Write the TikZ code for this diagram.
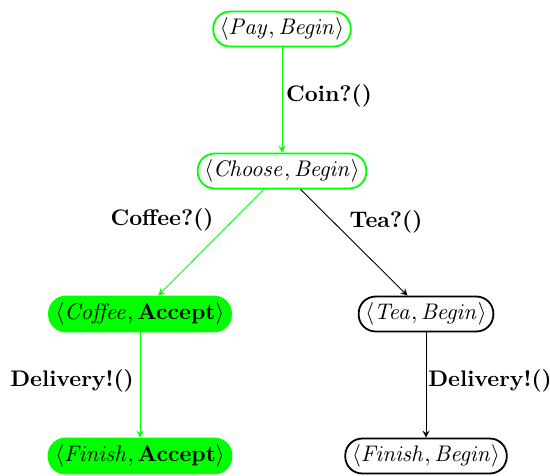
\documentclass[tikz,border=0pt]{standalone}
\usepackage{amsmath}
\usepackage{amssymb}
\usepackage{tikz}

\tikzset{
  state/.style={draw, thick, rounded corners=7.5pt, minimum height=15.5pt, inner xsep=3pt, inner ysep=2pt},
  okstate/.style={state, draw=green, fill=green},
  lbl/.style={font=\bfseries}
}

\begin{document}
\begin{tikzpicture}[x=0.0156cm, y=-0.0156cm, >=stealth]
            \useasboundingbox (0,0) rectangle (550,475);

            % States
            \node[state, draw=green] (pay) at (282,29) {$\langle \mathit{Pay}, \mathit{Begin}\rangle$};
            \node[state, draw=green] (choose) at (282,171) {$\langle \mathit{Choose}, \mathit{Begin}\rangle$};
            \node[okstate] (coffee) at (140,314) {$\langle \mathit{Coffee}, \textbf{Accept}\rangle$};
            \node[state] (tea) at (426,314) {$\langle \mathit{Tea}, \mathit{Begin}\rangle$};
            \node[okstate] (finacc) at (140,456) {$\langle \mathit{Finish}, \textbf{Accept}\rangle$};
            \node[state] (finbeg) at (426,456) {$\langle \mathit{Finish}, \mathit{Begin}\rangle$};

            % Transitions
            \draw[->, green] (pay) -- (choose);
            \draw[->, green] (choose) -- (coffee);
            \draw[->] (choose) -- (tea);
            \draw[->, green] (coffee) -- (finacc);
            \draw[->] (tea) -- (finbeg);

            % Labels
            \node[lbl] (coin) at (329,96) {Coin?()};
            \node[lbl] (cof) at (162,220) {Coffee?()};
            \node[lbl] (tealbl) at (386,222) {Tea?()};
            \node[lbl] (del1) at (72,381) {Delivery!()};
            \node[lbl] (del2) at (490,381) {Delivery!()};
        \end{tikzpicture}
\end{document}
